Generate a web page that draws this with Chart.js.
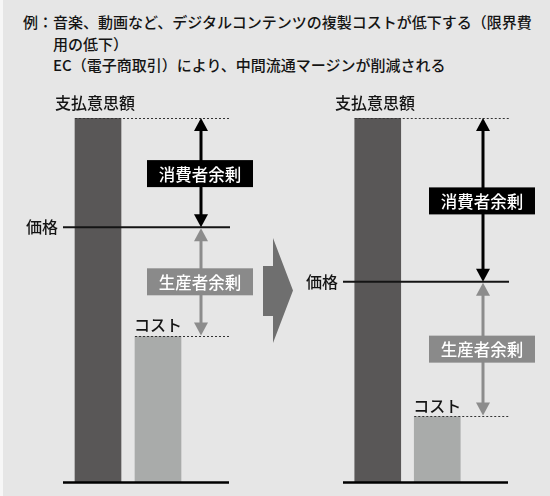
<!DOCTYPE html>
<html lang="ja">
<head>
<meta charset="utf-8">
<title>限界費用の低下と余剰</title>
<script src="https://cdn.jsdelivr.net/npm/chart.js@4/dist/chart.umd.min.js"></script>
<style>
  html, body { margin: 0; padding: 0; }
  body {
    width: 550px; height: 496px; position: relative; overflow: hidden;
    background: #e6e6e6;
    font-family: "Noto Sans CJK JP", "Noto Sans", sans-serif;
    color: #141414;
  }
  #edge { position: absolute; left: 0; top: 0; width: 3px; height: 496px; background: #f7f7f7; }
  #note {
    position: absolute; left: 0; top: 11px; width: 550px;
    box-sizing: border-box; padding-left: 53px; text-indent: -30px;
    font-size: 15px; font-weight: 500; line-height: 21.5px; white-space: nowrap;
  }
  canvas { position: absolute; top: 0; }
  #before { left: 0; }
  #after { left: 275px; }
  #shift { position: absolute; left: 0; top: 0; }
</style>
</head>
<body>
<div id="edge"></div>
<div id="note">例：音楽、動画など、デジタルコンテンツの複製コストが低下する（限界費<br>用の低下）<br>EC（電子商取引）により、中間流通マージンが削減される</div>
<canvas id="before" width="275" height="496"></canvas>
<canvas id="after" width="275" height="496"></canvas>
<svg id="shift" width="550" height="496">
  <polygon points="263,266 273,266 273,238 293,290.5 273,343 273,316 263,316" fill="#6f6f6f"/>
</svg>
<script>
// Bars: willingness to pay and cost, before and after the change
const categories = ['支払意思額', 'コスト'];
const beforeValues = [100, 40];
const afterValues = [100, 18];
const prices = [70, 55];               // market price, before / after
const priceLabel = '価格';
const surplusLabels = ['消費者余剰', '生産者余剰'];

const FONT = '"Noto Sans CJK JP", "Noto Sans", sans-serif';
const INK = '#141414';

function doubleArrow(ctx, x, yTop, yBot, color) {
  const head = 13, half = 7;
  ctx.save();
  ctx.strokeStyle = color; ctx.fillStyle = color; ctx.lineWidth = 3; ctx.setLineDash([]);
  ctx.beginPath(); ctx.moveTo(x, yTop + head - 1); ctx.lineTo(x, yBot - head + 1); ctx.stroke();
  ctx.beginPath(); ctx.moveTo(x, yTop); ctx.lineTo(x - half, yTop + head); ctx.lineTo(x + half, yTop + head); ctx.closePath(); ctx.fill();
  ctx.beginPath(); ctx.moveTo(x, yBot); ctx.lineTo(x - half, yBot - head); ctx.lineTo(x + half, yBot - head); ctx.closePath(); ctx.fill();
  ctx.restore();
}

function labelBox(ctx, cx, cy, text, fill) {
  const w = 106, h = 27;
  ctx.save();
  ctx.fillStyle = fill;
  ctx.fillRect(cx - w / 2, cy - h / 2, w, h);
  ctx.fillStyle = '#ffffff';
  ctx.font = '500 16.5px ' + FONT;
  ctx.textAlign = 'center'; ctx.textBaseline = 'middle';
  ctx.fillText(text, cx, cy + 1);
  ctx.restore();
}

// Draws the reference lines, surplus arrows and labels from the scales
const surplusPlugin = {
  id: 'surplus',
  afterDatasetsDraw(chart, args, opts) {
    const { ctx, chartArea: a, scales: { y } } = chart;
    const values = chart.data.datasets[0].data;
    const bars = chart.getDatasetMeta(0).data;
    const wtpBar = bars[0], costBar = bars[1];
    const yW = y.getPixelForValue(values[0]);
    const yC = y.getPixelForValue(values[1]);
    const yP = y.getPixelForValue(opts.price);
    const y0 = y.getPixelForValue(0);
    const lineL = a.left - 5, lineR = a.right + 42;
    const ax = a.right + opts.arrowGap;

    ctx.save();
    // dotted guides at willingness to pay and cost
    ctx.strokeStyle = '#333333'; ctx.lineWidth = 1; ctx.setLineDash([2, 2]);
    ctx.beginPath();
    ctx.moveTo(wtpBar.x - wtpBar.width / 2, Math.round(yW) + 0.5); ctx.lineTo(lineR, Math.round(yW) + 0.5);
    ctx.moveTo(costBar.x - costBar.width / 2, Math.round(yC) + 0.5); ctx.lineTo(lineR, Math.round(yC) + 0.5);
    ctx.stroke();
    ctx.setLineDash([]);
    // price line
    ctx.strokeStyle = INK; ctx.lineWidth = 2;
    ctx.beginPath(); ctx.moveTo(lineL, yP); ctx.lineTo(lineR, yP); ctx.stroke();
    // base line
    ctx.strokeStyle = '#000000'; ctx.lineWidth = 2.5;
    ctx.beginPath(); ctx.moveTo(lineL, y0 + 0.5); ctx.lineTo(lineR - 1, y0 + 0.5); ctx.stroke();
    ctx.restore();

    doubleArrow(ctx, ax, yW, yP, '#000000');
    doubleArrow(ctx, ax, yP + 1, yC - 1, '#8c8c8c');
    labelBox(ctx, ax - 1, (yW + yP) / 2 + 1, surplusLabels[0], '#000000');
    labelBox(ctx, ax - 1, (yP + yC) / 2, surplusLabels[1], '#8a8a8a');

    ctx.save();
    ctx.fillStyle = INK; ctx.font = '500 16px ' + FONT; ctx.textBaseline = 'middle';
    ctx.textAlign = 'left';
    ctx.fillText(chart.data.labels[0], a.left - 13, yW - 15);
    ctx.fillText(chart.data.labels[1], costBar.x - costBar.width / 2 - 1, yC - 11);
    ctx.textAlign = 'right';
    ctx.fillText(priceLabel, a.left - 10, yP);
    ctx.restore();
  }
};

function makePanel(id, values, price, padLeft, padRight, arrowGap) {
  return new Chart(document.getElementById(id), {
    type: 'bar',
    data: {
      labels: categories,
      datasets: [{
        data: values,
        backgroundColor: ['#595757', '#a9abaa'],
        borderWidth: 0,
        barThickness: 46
      }]
    },
    options: {
      responsive: false,
      animation: false,
      events: [],
      layout: { padding: { left: padLeft, right: padRight, top: 118, bottom: 14 } },
      scales: {
        x: { type: 'category', display: false },
        y: { type: 'linear', min: 0, max: 100, display: false }
      },
      plugins: {
        legend: { display: false },
        tooltip: { enabled: false },
        surplus: { price: price, arrowGap: arrowGap }
      }
    },
    plugins: [surplusPlugin]
  });
}

makePanel('before', beforeValues, prices[0], 68, 87, 13);
makePanel('after', afterValues, prices[1], 73, 83, 16);
</script>
</body>
</html>
